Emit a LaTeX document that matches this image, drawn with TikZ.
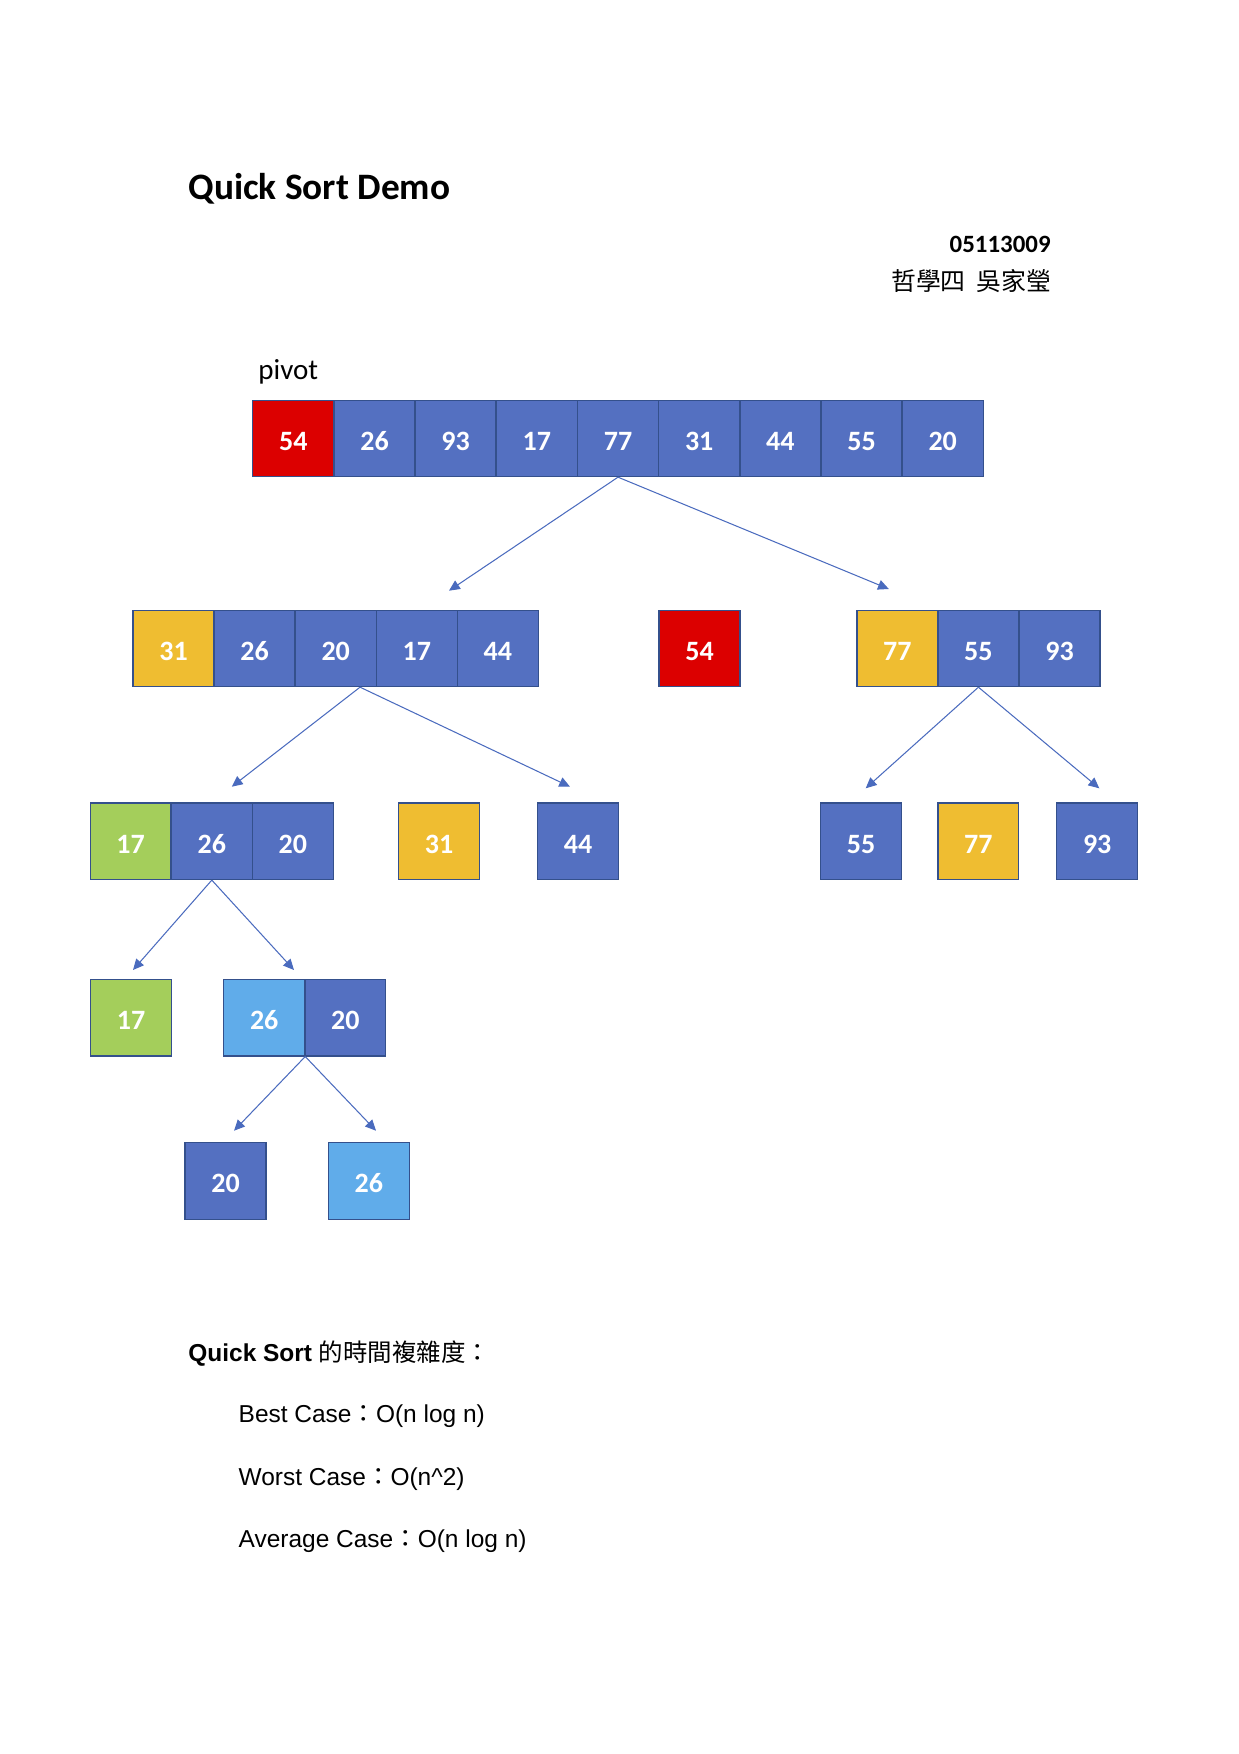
\documentclass[tikz,border=0pt]{standalone}
\usepackage{fontspec}
\setmainfont{Carlito}
\newfontfamily\cjk{Noto Sans CJK TC}
\newfontfamily\arialf{Liberation Sans}
\usetikzlibrary{arrows.meta,calc}
\definecolor{cblue}{HTML}{5470C1}
\definecolor{cborder}{HTML}{34508C}
\definecolor{cred}{HTML}{DC0000}
\definecolor{cyellow}{HTML}{EFBD31}
\definecolor{cgreen}{HTML}{A4CE5B}
\definecolor{clight}{HTML}{60ACEA}
\definecolor{clink}{HTML}{4A6BBE}
\begin{document}
\begin{tikzpicture}[x=0.016949cm,y=-0.016949cm,
  cell/.style={draw=cborder, line width=0.6pt, minimum width=39pt, minimum height=36.85pt,
    inner sep=0pt, text=white, text height=11.4pt, text depth=0pt,
    font=\bfseries\fontsize{13.5}{13.5}\selectfont},
  bc/.style={cell, fill=cblue},
  rc/.style={cell, fill=cred},
  yc/.style={cell, fill=cyellow},
  gc/.style={cell, fill=cgreen},
  lc/.style={cell, fill=clight},
  link/.style={draw=clink, line width=0.5pt, -{Triangle[length=5.2pt,width=4.8pt]}},
  bodytext/.style={anchor=base west, inner sep=0pt, font=\arialf\fontsize{11.8}{13}\selectfont}]
\useasboundingbox[fill=white] (0,0) rectangle (1239,1754);

% header texts
\node[anchor=base west, inner sep=0pt, font=\bfseries\fontsize{18}{20}\selectfont] (title) at (188,200) {Quick Sort Demo};
\node[anchor=base east, inner sep=0pt, font=\bfseries\fontsize{12}{14}\selectfont] (sid) at (1051,252.7) {05113009};
\node[anchor=base east, inner sep=0pt, font=\cjk\fontsize{12}{14}\selectfont] (sname) at (1052,290.7) {哲學四\hspace{5.4pt}吳家瑩};
\node[anchor=base west, inner sep=0pt, font=\fontsize{14}{16}\selectfont] (pivot) at (258,379.3) {pivot};

% row 1
\node[rc] (r1c1) at (293.3,438.35) {54};
\node[bc] (r1c2) at (374.5,438.35) {26};
\node[bc] (r1c3) at (455.6,438.35) {93};
\node[bc] (r1c4) at (536.8,438.35) {17};
\node[bc] (r1c5) at (618.0,438.35) {77};
\node[bc] (r1c6) at (699.2,438.35) {31};
\node[bc] (r1c7) at (780.4,438.35) {44};
\node[bc] (r1c8) at (861.6,438.35) {55};
\node[bc] (r1c9) at (942.7,438.35) {20};

% row 2
\node[yc] (r2a1) at (173.5,648.35) {31};
\node[bc] (r2a2) at (254.6,648.35) {26};
\node[bc] (r2a3) at (335.7,648.35) {20};
\node[bc] (r2a4) at (416.8,648.35) {17};
\node[bc] (r2a5) at (497.9,648.35) {44};
\node[rc] (r2b1) at (699.5,648.35) {54};
\node[yc] (r2c1) at (897.3,648.35) {77};
\node[bc] (r2c2) at (978.4,648.35) {55};
\node[bc] (r2c3) at (1059.5,648.35) {93};

% row 3
\node[gc] (r3a1) at (130.6,841.3) {17};
\node[bc] (r3a2) at (211.8,841.3) {26};
\node[bc] (r3a3) at (292.9,841.3) {20};
\node[yc] (r3b1) at (439,841.3) {31};
\node[bc] (r3c1) at (578,841.3) {44};
\node[bc] (r3d1) at (861,841.3) {55};
\node[yc] (r3e1) at (978.4,841.3) {77};
\node[bc] (r3f1) at (1097.2,841.3) {93};

% row 4
\node[gc] (r4a1) at (131,1017.7) {17};
\node[lc] (r4b1) at (264.2,1017.7) {26};
\node[bc] (r4b2) at (345.4,1017.7) {20};

% row 5
\node[bc] (r5a1) at (225.5,1181) {20};
\node[lc] (r5b1) at (368.9,1181) {26};

% arrow end points
\coordinate (t1l) at (449,590.7);
\coordinate (t1r) at (888.8,589);
\coordinate (t2l) at (231.8,786.7);
\coordinate (t2r) at (570,786.7);
\coordinate (t3l) at (865.7,788.3);
\coordinate (t3r) at (1099.3,788.3);
\coordinate (t4l) at (133,970);
\coordinate (t4r) at (294,970);
\coordinate (t5l) at (234,1130.7);
\coordinate (t5r) at (376,1130.7);
\coordinate (s2) at ($(r2a3.south)!0.3!(r2a4.south)$);

\draw[link] (r1c5.south) -- (t1l);
\draw[link] (r1c5.south) -- (t1r);
\draw[link] (s2) -- (t2l);
\draw[link] (s2) -- (t2r);
\draw[link] (r2c2.south) -- (t3l);
\draw[link] (r2c2.south) -- (t3r);
\draw[link] (r3a2.south) -- (t4l);
\draw[link] (r3a2.south) -- (t4r);
\draw[link] (r4b1.south east) -- (t5l);
\draw[link] (r4b1.south east) -- (t5r);

% complexity notes
\node[anchor=base west, inner sep=0pt, font=\fontsize{11.8}{13}\selectfont] (cx) at (188,1361.7)
  {{\arialf\bfseries Quick Sort }{\cjk 的時間複雜度：}};
\node[bodytext] (best) at (238.3,1422.7) {Best Case{\cjk ：}O(n log n)};
\node[bodytext] (worst) at (238.3,1485) {Worst Case{\cjk ：}O(n\textasciicircum 2)};
\node[bodytext] (avg) at (238.3,1547.7) {Average Case{\cjk ：}O(n log n)};
\end{tikzpicture}
\end{document}
